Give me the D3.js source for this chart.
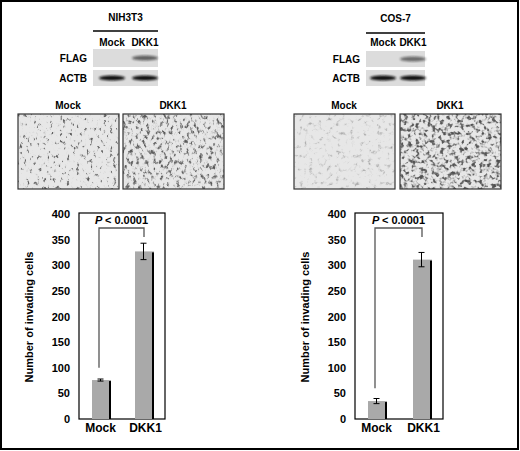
<!DOCTYPE html><html><head><meta charset="utf-8">
<script src="https://cdn.jsdelivr.net/npm/d3@7"></script>
<style>body{margin:0;background:#fff}svg{display:block;font-family:"Liberation Sans",Arial,sans-serif;font-weight:bold}</style>
</head><body><svg id="c" width="520" height="451"></svg>
<script>
const categories=["Mock","DKK1"];
const nihValues=[76,327];
const nihErrors=[2,16];
const cosValues=[35,311];
const cosErrors=[5,14];
const yTicks=[0,50,100,150,200,250,300,350,400];
const pLabel="< 0.0001";
const svg=d3.select("#c");
svg.append("rect").attr("x",1).attr("y",1).attr("width",517).attr("height",448).attr("fill","#fff").attr("stroke","#000").attr("stroke-width",2);
const defs=svg.append("defs");
function texture(id,freq,seed,table){
  const f=defs.append("filter").attr("id",id).attr("x",0).attr("y",0).attr("width","100%").attr("height","100%");
  f.append("feTurbulence").attr("type","fractalNoise").attr("baseFrequency",freq).attr("numOctaves",3).attr("seed",seed).attr("result","n");
  f.append("feColorMatrix").attr("type","matrix").attr("in","n").attr("values","1 0 0 0 0 1 0 0 0 0 1 0 0 0 0 0 0 0 0 1").attr("result","g");
  const ct=f.append("feComponentTransfer").attr("in","g");
  ["R","G","B"].forEach(c=>ct.append("feFunc"+c).attr("type","table").attr("tableValues",table));
}
texture("m1","0.3 0.22",3,"0.1 0.1 0.12 0.25 0.72 0.8 0.8 0.8 0.8 0.8 0.8 0.8");
texture("m2","0.3 0.2",7,"0.08 0.08 0.1 0.15 0.35 0.72 0.8 0.8 0.8 0.8 0.8 0.8");
texture("m3","0.22",11,"0.3 0.35 0.45 0.6 0.74 0.8 0.8 0.8 0.8 0.8 0.8 0.8");
texture("m4","0.25",5,"0.08 0.08 0.08 0.1 0.2 0.55 0.8 0.8 0.8 0.8 0.8 0.8");
defs.append("filter").attr("id","bl").append("feGaussianBlur").attr("stdDeviation",1.2);

function blot(x0,x1,title,titleY,lineY,laneX,flagBand,flagY0){
  const g=svg.append("g");
  g.append("text").attr("x",(x0+x1)/2).attr("y",titleY).attr("text-anchor","middle").attr("font-size",10).text(title);
  g.append("line").attr("x1",x0).attr("x2",x1).attr("y1",lineY).attr("y2",lineY).attr("stroke","#000").attr("stroke-width",1.5);
  categories.forEach((c,i)=>g.append("text").attr("x",laneX[i]).attr("y",46).attr("text-anchor","middle").attr("font-size",10).text(c));
  const rows=[["FLAG",flagY0,67],["ACTB",70,86]];
  rows.forEach(([lab,ya,yb],r)=>{
    g.append("rect").attr("x",x0).attr("y",ya).attr("width",x1-x0).attr("height",yb-ya).attr("fill","#dcdcdc");
    g.append("text").attr("x",x0-6).attr("y",(ya+yb)/2+4).attr("text-anchor","end").attr("font-size",10).text(lab);
    laneX.forEach((lx,i)=>{
      const s=r==1?1:flagBand[i];
      if(s>0) g.append("ellipse").attr("cx",lx).attr("cy",(ya+yb)/2).attr("rx",13).attr("ry",2.6).attr("fill","#111").attr("opacity",s).attr("filter","url(#bl)");
    });
  });
}
blot(93,158,"NIH3T3",21,31,[112,145],[0,0.6],49);
blot(366,425,"COS-7",22,33,[383,413],[0,0.55],51);

function micro(x,lab,filt){
  svg.append("text").attr("x",x+50).attr("y",109).attr("text-anchor","middle").attr("font-size",10).text(lab);
  svg.append("rect").attr("x",x).attr("y",114).attr("width",101).attr("height",75).attr("filter",`url(#${filt})`);
  svg.append("rect").attr("x",x).attr("y",114).attr("width",101).attr("height",75).attr("fill","none").attr("stroke","#333").attr("stroke-width",1.2);
}
micro(18,"Mock","m1");micro(123,"DKK1","m2");micro(294,"Mock","m3");micro(400,"DKK1","m4");

function chart(left,right,vals,errs,barX,bracketLowVal){
  const g=svg.append("g");
  const y=d3.scaleLinear().domain([0,400]).range([419,214]);
  const x=d3.scaleOrdinal().domain(categories).range(barX);
  g.append("rect").attr("x",left).attr("y",213).attr("width",right-left).attr("height",206).attr("fill","none").attr("stroke","#000").attr("stroke-width",1.2);
  const ax=g.append("g").attr("transform",`translate(${left},0)`).call(d3.axisLeft(y).tickValues(yTicks).tickSize(0).tickPadding(9));
  ax.select(".domain").remove();
  ax.selectAll("text").attr("font-size",11).attr("font-weight","bold").attr("font-family","Liberation Sans, Arial");
  g.append("text").attr("transform",`translate(${left-46},317) rotate(-90)`).attr("text-anchor","middle").attr("font-size",11).text("Number of invading cells");
  categories.forEach((c,i)=>{
    const bx=x(c);
    g.append("rect").attr("x",bx).attr("y",y(vals[i])).attr("width",19).attr("height",419-y(vals[i])).attr("fill","#a9a9a9");
    g.append("rect").attr("x",bx+17).attr("y",y(vals[i])+1).attr("width",2).attr("height",418-y(vals[i])).attr("fill","#000");
    const cx=bx+8.5;
    g.append("path").attr("d",`M${cx-3},${y(vals[i]+errs[i])}H${cx+3}M${cx},${y(vals[i]+errs[i])}V${y(vals[i]-errs[i])}M${cx-3},${y(vals[i]-errs[i])}H${cx+3}`).attr("stroke","#000").attr("stroke-width",1).attr("fill","none");
    g.append("text").attr("x",cx+(i?2:0)).attr("y",432).attr("text-anchor","middle").attr("font-size",12).text(c);
  });
  const bl=x(categories[0])+7, br=x(categories[1])+9;
  g.append("path").attr("d",`M${bl},${y(bracketLowVal)}V228H${br}V237`).attr("stroke","#555").attr("stroke-width",1.3).attr("fill","none");
  const t=g.append("text").attr("x",(bl+br)/2).attr("y",224).attr("text-anchor","middle").attr("font-size",11);
  t.append("tspan").attr("font-style","italic").text("P ");
  t.append("tspan").text(pLabel);
}
chart(79,165,nihValues,nihErrors,[92,135],100);
chart(355,443,cosValues,cosErrors,[368,413],60);
</script></body></html>
